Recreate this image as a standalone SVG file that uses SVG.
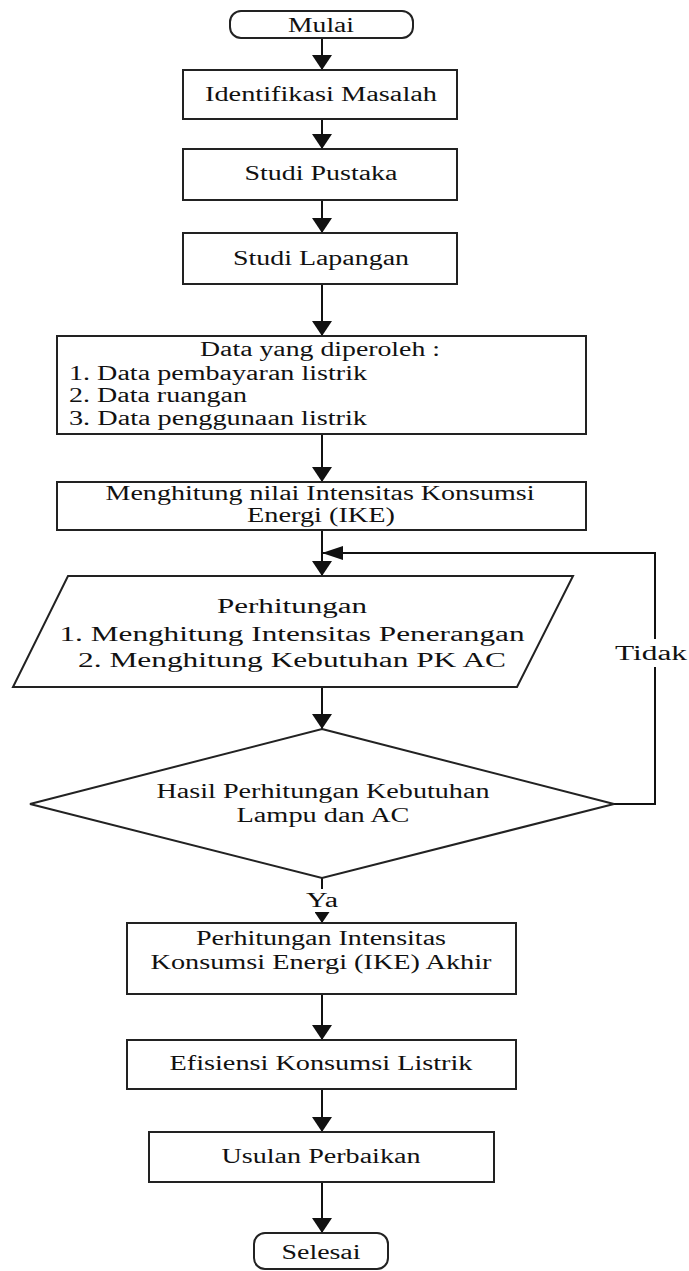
<svg xmlns="http://www.w3.org/2000/svg" width="689" height="1271" viewBox="0 0 689 1271">
<style>
.s{fill:#fff;stroke:#222;stroke-width:2}
.c{fill:none;stroke:#111;stroke-width:2}
text{font-family:"Liberation Serif","Times New Roman",serif;font-size:20px;fill:#111}
.m{text-anchor:middle}
</style>
<defs>
<marker id="a" markerUnits="userSpaceOnUse" markerWidth="15" markerHeight="20" refX="15" refY="10" orient="auto"><path d="M0,0 L15,10 L0,20 z" fill="#111"/></marker>
<marker id="f" markerUnits="userSpaceOnUse" markerWidth="21" markerHeight="14" refX="21" refY="7" orient="auto"><path d="M0,0 L21,7 L0,14 z" fill="#111"/></marker>
<marker id="y" markerUnits="userSpaceOnUse" markerWidth="11" markerHeight="15" refX="11" refY="7.5" orient="auto"><path d="M0,0 L11,7.5 L0,15 z" fill="#111"/></marker>
</defs>
<g id="connectors">
<path class="c" d="M322,38 V70" marker-end="url(#a)"/>
<path class="c" d="M322,119 V149" marker-end="url(#a)"/>
<path class="c" d="M322,200 V233" marker-end="url(#a)"/>
<path class="c" d="M322,284 V336" marker-end="url(#a)"/>
<path class="c" d="M322,434 V482" marker-end="url(#a)"/>
<path class="c" d="M322,530 V576" marker-end="url(#a)"/>
<path class="c" d="M322,687 V729" marker-end="url(#a)"/>
<path class="c" d="M322,878 V889"/>
<path class="c" d="M322,912 V923" marker-end="url(#y)"/>
<path class="c" d="M614,804 H655 V667"/>
<path class="c" d="M655,639 V553 H322" marker-end="url(#f)"/>
<path class="c" d="M322,994 V1040" marker-end="url(#a)"/>
<path class="c" d="M322,1089 V1132" marker-end="url(#a)"/>
<path class="c" d="M322,1182 V1233" marker-end="url(#a)"/>
<text class="m" x="651" y="660" textLength="72" lengthAdjust="spacingAndGlyphs">Tidak</text>
<text class="m" x="322" y="907" textLength="32" lengthAdjust="spacingAndGlyphs">Ya</text>
</g>
<g id="mulai">
<rect class="s" x="230" y="11" width="183" height="27" rx="11"/>
<text class="m" x="321" y="32" textLength="66" lengthAdjust="spacingAndGlyphs">Mulai</text>
</g>
<g id="identifikasi">
<rect class="s" x="183" y="70" width="274" height="49"/>
<text class="m" x="321" y="101" textLength="232" lengthAdjust="spacingAndGlyphs">Identifikasi Masalah</text>
</g>
<g id="pustaka">
<rect class="s" x="183" y="149" width="274" height="51"/>
<text class="m" x="321" y="180" textLength="153" lengthAdjust="spacingAndGlyphs">Studi Pustaka</text>
</g>
<g id="lapangan">
<rect class="s" x="183" y="233" width="274" height="51"/>
<text class="m" x="321" y="265" textLength="176" lengthAdjust="spacingAndGlyphs">Studi Lapangan</text>
</g>
<g id="data">
<rect class="s" x="57" y="336" width="529" height="98"/>
<text class="m" x="320" y="356" textLength="240" lengthAdjust="spacingAndGlyphs">Data yang diperoleh :</text>
<text x="69" y="380" textLength="298" lengthAdjust="spacingAndGlyphs">1. Data pembayaran listrik</text>
<text x="69" y="402" textLength="178" lengthAdjust="spacingAndGlyphs">2. Data ruangan</text>
<text x="69" y="425" textLength="298" lengthAdjust="spacingAndGlyphs">3. Data penggunaan listrik</text>
</g>
<g id="ike">
<rect class="s" x="57" y="482" width="529" height="48"/>
<text class="m" x="320" y="500" textLength="429" lengthAdjust="spacingAndGlyphs">Menghitung nilai Intensitas Konsumsi</text>
<text class="m" x="321" y="522" textLength="148" lengthAdjust="spacingAndGlyphs">Energi (IKE)</text>
</g>
<g id="perhitungan">
<polygon class="s" points="68,576 573,576 517,687 13,687"/>
<text class="m" x="292" y="613" textLength="150" lengthAdjust="spacingAndGlyphs">Perhitungan</text>
<text class="m" x="292" y="641" textLength="465" lengthAdjust="spacingAndGlyphs">1. Menghitung Intensitas Penerangan</text>
<text class="m" x="292" y="667" textLength="428" lengthAdjust="spacingAndGlyphs">2. Menghitung Kebutuhan PK AC</text>
</g>
<g id="keputusan">
<polygon class="s" points="322,729 614,804 322,878 30,804"/>
<text class="m" x="323" y="798" textLength="333" lengthAdjust="spacingAndGlyphs">Hasil Perhitungan Kebutuhan</text>
<text class="m" x="323" y="822" textLength="173" lengthAdjust="spacingAndGlyphs">Lampu dan AC</text>
</g>
<g id="ike-akhir">
<rect class="s" x="127" y="923" width="389" height="71"/>
<text class="m" x="321" y="945" textLength="250" lengthAdjust="spacingAndGlyphs">Perhitungan Intensitas</text>
<text class="m" x="321" y="969" textLength="341" lengthAdjust="spacingAndGlyphs">Konsumsi Energi (IKE) Akhir</text>
</g>
<g id="efisiensi">
<rect class="s" x="127" y="1040" width="389" height="49"/>
<text class="m" x="321" y="1070" textLength="303" lengthAdjust="spacingAndGlyphs">Efisiensi Konsumsi Listrik</text>
</g>
<g id="usulan">
<rect class="s" x="149" y="1132" width="345" height="50"/>
<text class="m" x="321" y="1163" textLength="199" lengthAdjust="spacingAndGlyphs">Usulan Perbaikan</text>
</g>
<g id="selesai">
<rect class="s" x="254" y="1233" width="134" height="36" rx="11"/>
<text class="m" x="321" y="1259" textLength="79" lengthAdjust="spacingAndGlyphs">Selesai</text>
</g>
</svg>
